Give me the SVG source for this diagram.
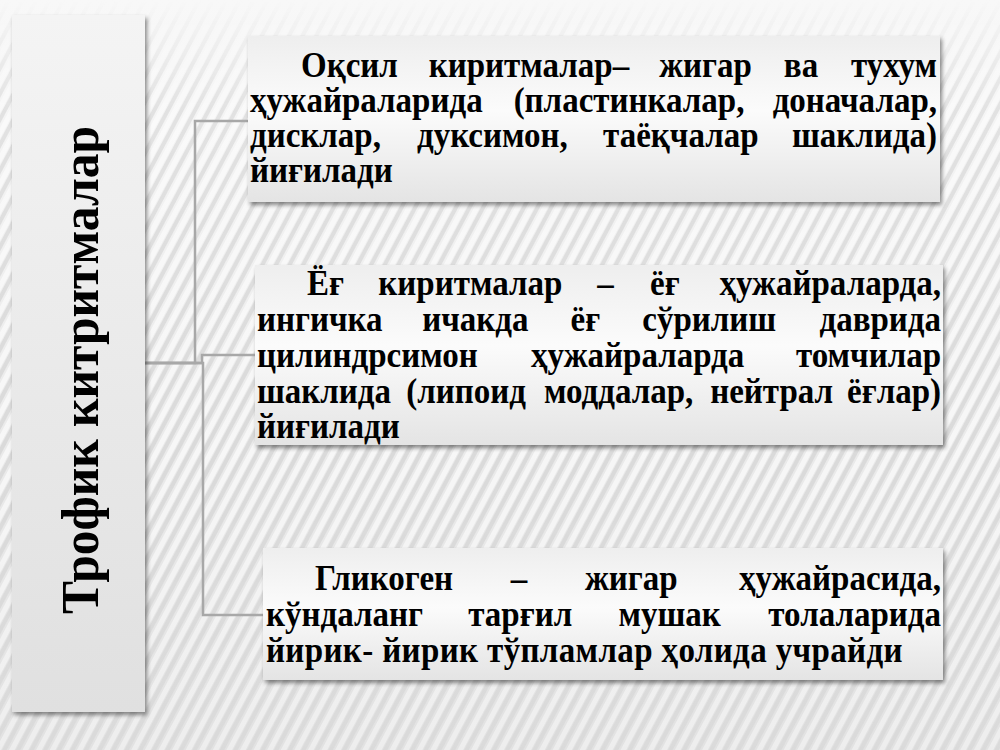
<svg xmlns="http://www.w3.org/2000/svg" width="1000" height="750" viewBox="0 0 1000 750">
  <defs>
    <linearGradient id="bg" x1="0" y1="0" x2="0" y2="1">
      <stop offset="0" stop-color="#f8f8f8"/>
      <stop offset="0.5" stop-color="#ececec"/>
      <stop offset="1" stop-color="#e2e2e2"/>
    </linearGradient>
    <pattern id="stripes" width="12" height="12" patternUnits="userSpaceOnUse" patternTransform="rotate(28)">
      <rect x="0" y="0" width="5" height="12" fill="#ffffff"/>
      <rect x="6" y="0" width="4" height="12" fill="#cfcfcf"/>
    </pattern>
    <linearGradient id="fade" x1="0" y1="0" x2="0" y2="1">
      <stop offset="0" stop-color="#fff" stop-opacity="0"/>
      <stop offset="0.15" stop-color="#fff" stop-opacity="0.5"/>
      <stop offset="0.6" stop-color="#fff" stop-opacity="0.6"/>
      <stop offset="1" stop-color="#fff" stop-opacity="0.4"/>
    </linearGradient>
    <mask id="stripeMask">
      <rect x="0" y="0" width="1000" height="750" fill="url(#fade)"/>
    </mask>
    <linearGradient id="boxFill" x1="0" y1="0" x2="0" y2="1">
      <stop offset="0" stop-color="#eeeeee"/>
      <stop offset="0.45" stop-color="#fbfbfb"/>
      <stop offset="1" stop-color="#e4e4e4"/>
    </linearGradient>
    <linearGradient id="titleFill" x1="0" y1="0" x2="0" y2="1">
      <stop offset="0" stop-color="#f4f4f4"/>
      <stop offset="1" stop-color="#e0e0e0"/>
    </linearGradient>
    <filter id="shadow" x="-10%" y="-10%" width="125%" height="125%">
      <feDropShadow dx="2" dy="3" stdDeviation="2" flood-color="#000" flood-opacity="0.45"/>
    </filter>
    <style>
      .box { fill: url(#boxFill); filter: url(#shadow); }
      .title { fill: url(#titleFill); filter: url(#shadow); }
      .conn { fill: none; stroke: #a8a8a8; stroke-width: 2.5; }
      .t { font-family: "Liberation Serif", "Times New Roman", serif; font-weight: bold; font-size: 35px; fill: #000; }
      .m { text-anchor: middle; }
      .e { text-anchor: end; }
      .big { font-family: "Liberation Serif", "Times New Roman", serif; font-weight: bold; font-size: 53px; fill: #000; text-anchor: middle; }
    </style>
  </defs>

  <rect x="0" y="0" width="1000" height="750" fill="url(#bg)"/>
  <rect x="0" y="0" width="1000" height="750" fill="url(#stripes)" mask="url(#stripeMask)"/>

  <g id="connectors">
    <path class="conn" d="M145,363 H195 V121 H248"/>
    <path class="conn" d="M145,363 H202 V355 H255"/>
    <path class="conn" d="M145,363 H203 V615 H263"/>
  </g>

  <g id="title-node">
    <rect class="title" x="12" y="15" width="133" height="697"/>
    <text class="big" transform="translate(98,370) rotate(-90)" textLength="488" lengthAdjust="spacingAndGlyphs">Трофик китритмалар</text>
  </g>

  <g id="node-protein">
    <rect class="box" x="248" y="36" width="692" height="166"/>
    <text class="t" transform="translate(301,77) scale(0.943,1)">Оқсил</text>
    <text class="t" transform="translate(428.7,77) scale(0.943,1)">киритмалар–</text>
    <text class="t m" transform="translate(705.5,77) scale(0.943,1)">жигар</text>
    <text class="t m" transform="translate(801,77) scale(0.943,1)">ва</text>
    <text class="t e" transform="translate(937,77) scale(0.943,1)">тухум</text>
    <text class="t" transform="translate(250,112) scale(0.943,1)">ҳужайраларида</text>
    <text class="t m" transform="translate(629,112) scale(0.943,1)">(пластинкалар,</text>
    <text class="t e" transform="translate(937,112) scale(0.943,1)">доначалар,</text>
    <text class="t" transform="translate(250,147) scale(0.943,1)">дисклар,</text>
    <text class="t m" transform="translate(492.4,147) scale(0.943,1)">дуксимон,</text>
    <text class="t m" transform="translate(680.8,147) scale(0.943,1)">таёқчалар</text>
    <text class="t e" transform="translate(937,147) scale(0.943,1)">шаклида)</text>
    <text class="t" transform="translate(250,182) scale(0.943,1)">йиғилади</text>
  </g>

  <g id="node-fat">
    <rect class="box" x="255" y="265" width="688" height="180"/>
    <text class="t" transform="translate(307,295) scale(0.943,1)">Ёғ</text>
    <text class="t m" transform="translate(470.3,295) scale(0.943,1)">киритмалар</text>
    <text class="t m" transform="translate(605.6,295) scale(0.943,1)">–</text>
    <text class="t m" transform="translate(664.8,295) scale(0.943,1)">ёғ</text>
    <text class="t e" transform="translate(941,295) scale(0.943,1)">ҳужайраларда,</text>
    <text class="t" transform="translate(257,331) scale(0.943,1)">ингичка</text>
    <text class="t m" transform="translate(475.3,331) scale(0.943,1)">ичакда</text>
    <text class="t m" transform="translate(585.4,331) scale(0.943,1)">ёғ</text>
    <text class="t m" transform="translate(709.2,331) scale(0.943,1)">сўрилиш</text>
    <text class="t e" transform="translate(941,331) scale(0.943,1)">даврида</text>
    <text class="t" transform="translate(257,367) scale(0.943,1)">цилиндрсимон</text>
    <text class="t m" transform="translate(637.7,367) scale(0.943,1)">ҳужайраларда</text>
    <text class="t e" transform="translate(941,367) scale(0.943,1)">томчилар</text>
    <text class="t" transform="translate(257,403) scale(0.943,1)">шаклида</text>
    <text class="t m" transform="translate(466.1,403) scale(0.943,1)">(липоид</text>
    <text class="t m" transform="translate(618.7,403) scale(0.943,1)">моддалар,</text>
    <text class="t m" transform="translate(771.6,403) scale(0.943,1)">нейтрал</text>
    <text class="t e" transform="translate(941,403) scale(0.943,1)">ёғлар)</text>
    <text class="t" transform="translate(257,438) scale(0.943,1)">йиғилади</text>
  </g>

  <g id="node-glycogen">
    <rect class="box" x="263" y="548" width="680" height="132"/>
    <text class="t" transform="translate(315,590) scale(0.943,1)">Гликоген</text>
    <text class="t m" transform="translate(519.1,590) scale(0.943,1)">–</text>
    <text class="t m" transform="translate(631.3,590) scale(0.943,1)">жигар</text>
    <text class="t e" transform="translate(941,590) scale(0.943,1)">ҳужайрасида,</text>
    <text class="t" transform="translate(266,626) scale(0.943,1)">кўндаланг</text>
    <text class="t m" transform="translate(520.2,626) scale(0.943,1)">тарғил</text>
    <text class="t m" transform="translate(669.7,626) scale(0.943,1)">мушак</text>
    <text class="t e" transform="translate(941,626) scale(0.943,1)">толаларида</text>
    <text class="t" transform="translate(266,662) scale(0.943,1)" textLength="675" lengthAdjust="spacing">йирик- йирик тўпламлар ҳолида учрайди</text>
  </g>
</svg>
